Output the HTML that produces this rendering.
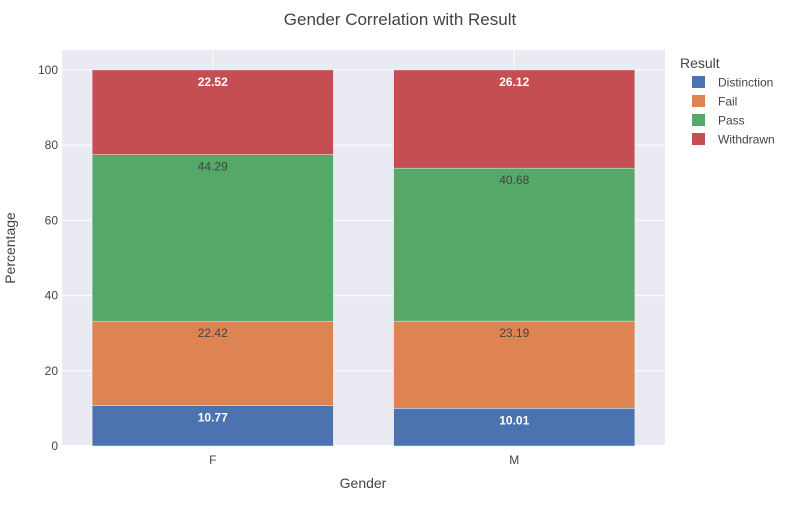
<!DOCTYPE html>
<html><head><meta charset="utf-8"><style>
body{margin:0;background:#fff;font-family:"Liberation Sans",sans-serif}
svg text{font-family:"Liberation Sans",sans-serif}
</style></head><body>
<svg id="chart" width="800" height="500" xmlns="http://www.w3.org/2000/svg">
<rect width="800" height="500" fill="#fff"/>
<text x="400" y="25" text-anchor="middle" font-size="17" fill="#444">Gender Correlation with Result</text>
<g id="plot"></g>
<text x="363" y="488" text-anchor="middle" font-size="14" fill="#444">Gender</text>
<text transform="translate(15,248) rotate(-90)" text-anchor="middle" font-size="14" fill="#444">Percentage</text>
<g id="legend"></g>
</svg>
<script>
const categories=["F","M"];
const seriesNames=["Distinction","Fail","Pass","Withdrawn"];
const distinction=[10.77,10.01];
const fail=[22.42,23.19];
const pass=[44.29,40.68];
const withdrawn=[22.52,26.12];
const yTicks=[0,20,40,60,80,100];
const colors=["#4c72b0","#dd8452","#55a868","#c44e52"];
const textColors=["#fff","#444","#444","#fff"];
const series=[distinction,fail,pass,withdrawn];
const NS="http://www.w3.org/2000/svg";
const L=62,R=665,T=50,B=446,yMax=105.3;
const y=v=>B-(v/yMax)*(B-T);
const band=(R-L)/categories.length;
const xc=i=>L+band*(i+0.5);
const bw=band*0.8;
const plot=document.getElementById('plot');
function mk(tag,attrs,parent){const e=document.createElementNS(NS,tag);for(const k in attrs)e.setAttribute(k,attrs[k]);parent.appendChild(e);return e;}
const bg=mk('rect',{x:L,y:T,width:R-L,height:B-T,fill:'#eaeaf2'},plot);


yTicks.forEach(t=>{
  const g=mk('line',{x1:L,x2:R,y1:y(t),y2:y(t),stroke:'#fff','stroke-width':t===0?2:1},plot);
  
  
  const tx=mk('text',{x:L-4,y:y(t)+4,'text-anchor':'end','font-size':12,fill:'#444'},plot);
  tx.textContent=t;
  
  
});
categories.forEach((c,i)=>{
  const g=mk('line',{x1:xc(i),x2:xc(i),y1:T,y2:B,stroke:'#fff','stroke-width':1},plot);
  
  
});
categories.forEach((c,i)=>{
  let base=0;
  series.forEach((s,k)=>{
    const v=s[i];
    const r=mk('rect',{x:xc(i)-bw/2,y:y(base+v),width:bw,height:y(base)-y(base+v),fill:colors[k],stroke:'#eaeaf2','stroke-width':0.5},plot);
    
    
    const t=mk('text',{x:xc(i),y:y(base+v)+16,'text-anchor':'middle','font-size':12,fill:textColors[k],'font-weight':textColors[k]==='#fff'?'bold':'normal'},plot);
    t.textContent=v.toFixed(2);
    
    
    base+=v;
  });
  const tl=mk('text',{x:xc(i),y:B+18,'text-anchor':'middle','font-size':12,fill:'#444'},plot);
  tl.textContent=c;
  
  
});
const lg=document.getElementById('legend');
const lt=mk('text',{x:680,y:68,'font-size':14,fill:'#444'},lg);
lt.textContent='Result';


seriesNames.forEach((n,k)=>{
  const yy=82+k*19;
  const g=mk('g',{},lg);
  
  
  mk('rect',{x:692,y:yy-6,width:13,height:12,fill:colors[k]},g);
  const t=mk('text',{x:718,y:yy+4.5,'font-size':12,fill:'#444'},g);
  t.textContent=n;
});
</script>
</body></html>
